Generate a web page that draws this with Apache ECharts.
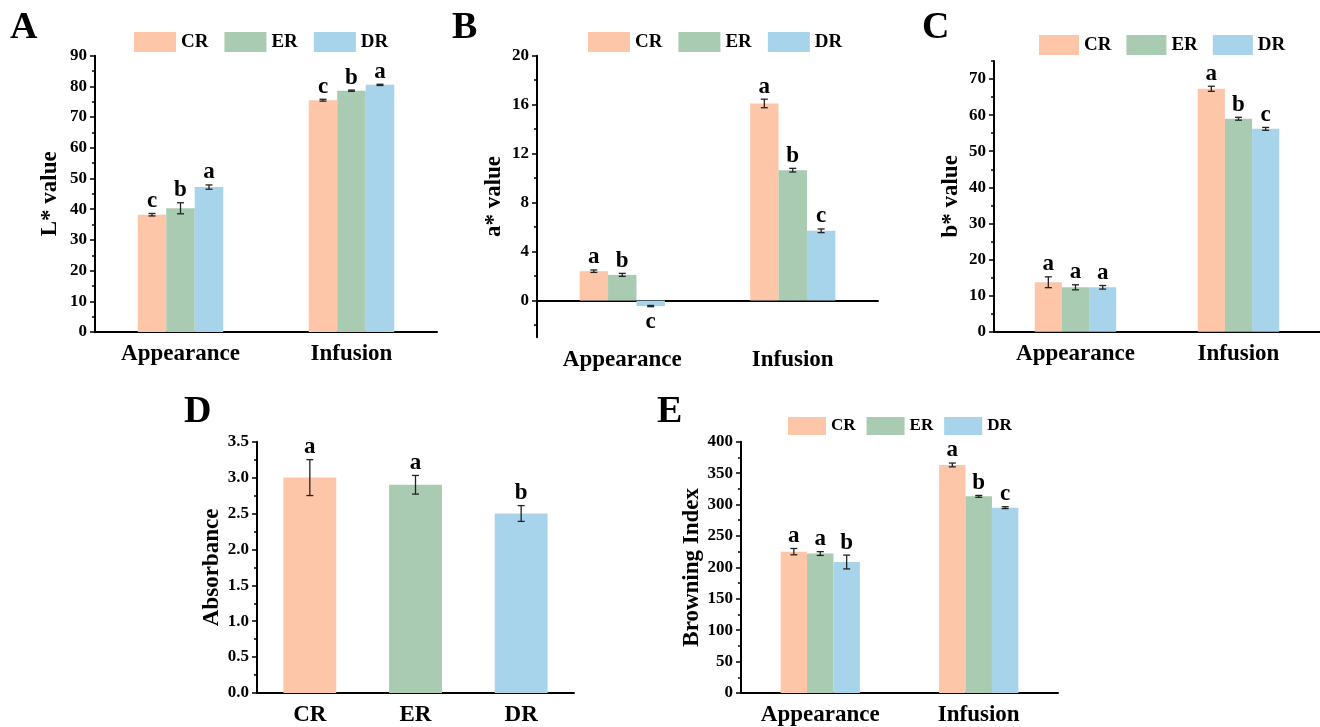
<!DOCTYPE html>
<html>
<head>
<meta charset="utf-8">
<title>Colour and browning of CR, ER, DR</title>
<script src="https://cdn.jsdelivr.net/npm/echarts@6/dist/echarts.min.js"></script>
<style>
html, body { margin: 0; padding: 0; background: #fff; }
#chart { width: 1320px; height: 727px; }
</style>
</head>
<body>
<div id="chart"></div>
<script>
// Categories
const groups = ['CR', 'ER', 'DR'];
const stages = ['Appearance', 'Infusion'];

// A: L* value (rows CR, ER, DR; columns Appearance, Infusion)
const lMean = [[38.2, 75.5], [40.3, 78.6], [47.2, 80.5]];
const lErr = [[0.4, 0.3], [1.8, 0.2], [0.7, 0.2]];
const lLetters = [['c', 'c'], ['b', 'b'], ['a', 'a']];
const lTicks = [0, 10, 20, 30, 40, 50, 60, 70, 80, 90];

// B: a* value
const aMean = [[2.4, 16.1], [2.1, 10.65], [-0.45, 5.7]];
const aErr = [[0.1, 0.35], [0.12, 0.15], [0.05, 0.15]];
const aLetters = [['a', 'a'], ['b', 'b'], ['c', 'c']];
const aTicks = [0, 4, 8, 12, 16, 20];

// C: b* value
const bMean = [[13.7, 67.3], [12.3, 59.0], [12.3, 56.2]];
const bErr = [[1.5, 0.7], [0.7, 0.4], [0.5, 0.4]];
const bLetters = [['a', 'a'], ['a', 'b'], ['a', 'c']];
const bTicks = [0, 10, 20, 30, 40, 50, 60, 70];

// D: absorbance
const absMean = [3.0, 2.9, 2.5];
const absErr = [0.25, 0.13, 0.11];
const absLetters = ['a', 'a', 'b'];
const absTicks = [0, 0.5, 1.0, 1.5, 2.0, 2.5, 3.0, 3.5];

// E: browning index
const biMean = [[225, 363], [222, 313], [208.5, 295]];
const biErr = [[5, 3], [3, 1.5], [11, 1.5]];
const biLetters = [['a', 'a'], ['a', 'b'], ['b', 'c']];
const biTicks = [0, 50, 100, 150, 200, 250, 300, 350, 400];

const colors = ['#FEC6A9', '#A8CBB1', '#A7D4EB'];
const FONT = 'Liberation Serif';

const panels = [
    {tag: 'A', tagPos: [10, 9], yName: 'L* value', cats: stages, mean: lMean, err: lErr, letters: lLetters,
     ticks: lTicks, min: 0, max: 90, box: [95, 55.7, 342, 276.3], nameGap: 33,
     legend: {left: 134, top: 32, gap: 16, w: 42, h: 20, size: 19}},
    {tag: 'B', tagPos: [452, 9], yName: 'a* value', cats: stages, mean: aMean, err: aErr, letters: aLetters,
     ticks: aTicks, min: -3, max: 20, box: [537, 55.7, 341, 281.6], nameGap: 31,
     legend: {left: 588, top: 32, gap: 16, w: 42, h: 20, size: 19}},
    {tag: 'C', tagPos: [922, 9], yName: 'b* value', cats: stages, mean: bMean, err: bErr, letters: bLetters,
     ticks: bTicks, min: 0, max: 75, box: [994, 61, 334, 270.7], nameGap: 31,
     legend: {left: 1039, top: 35, gap: 15, w: 40, h: 20, size: 19}},
    {tag: 'D', tagPos: [184, 393], yName: 'Absorbance', cats: groups, mean: [absMean], err: [absErr], letters: [absLetters],
     ticks: absTicks, min: 0, max: 3.5, box: [257, 441.7, 317, 255], nameGap: 33, fixed: 1,
     legend: null},
    {tag: 'E', tagPos: [657, 393], yName: 'Browning Index', cats: stages, mean: biMean, err: biErr, letters: biLetters,
     ticks: biTicks, min: 0, max: 400, box: [741, 441.7, 317, 255.6], nameGap: 37,
     legend: {left: 788, top: 417, gap: 11, w: 38, h: 18, size: 17}}
];

function minorTicks(ticks, min, max) {
    const step = ticks[1] - ticks[0];
    const cand = [ticks[0] - step / 2].concat(ticks.map(t => t + step / 2));
    return cand.filter(v => v >= min - 1e-9 && v <= max + 1e-9);
}

const grid = [], xAxis = [], yAxis = [], series = [], legend = [], graphic = [];
const axisBlack = {color: '#000', width: 2};

panels.forEach((p, i) => {
    const [left, top, width, height] = p.box;
    grid.push({left, top, width, height});
    const xi = i * 3, yi = i * 2;

    // main x axis: line + ticks at category centres
    xAxis.push({
        type: 'category', gridIndex: i, data: p.cats, position: 'bottom',
        axisLine: {onZero: true, lineStyle: axisBlack},
        axisTick: {alignWithLabel: true, length: 5, lineStyle: {color: '#000', width: 1.5}},
        axisLabel: {show: false}, splitLine: {show: false}
    });
    // boundary ticks
    xAxis.push({
        type: 'category', gridIndex: i, data: p.cats, position: 'bottom',
        axisLine: {show: false, onZero: true},
        axisTick: {alignWithLabel: false, length: 3, lineStyle: {color: '#000', width: 1.5}},
        axisLabel: {show: false}, splitLine: {show: false}
    });
    // labels at the bottom of the grid
    xAxis.push({
        type: 'category', gridIndex: i, data: p.cats, position: 'bottom',
        axisLine: {show: false, onZero: false}, axisTick: {show: false},
        axisLabel: {margin: 11, color: '#000', fontFamily: FONT, fontWeight: 'bold', fontSize: 23},
        splitLine: {show: false}
    });

    yAxis.push({
        type: 'value', gridIndex: i, min: p.min, max: p.max, position: 'left',
        name: p.yName, nameLocation: 'middle', nameRotate: 90, nameGap: p.nameGap,
        nameTextStyle: {color: '#000', fontFamily: FONT, fontWeight: 'bold', fontSize: 23},
        axisLine: {show: true, onZero: false, lineStyle: axisBlack},
        axisTick: {show: true, length: 5, customValues: p.ticks, lineStyle: {color: '#000', width: 1.5}},
        axisLabel: {
            customValues: p.ticks, margin: 8, color: '#000', fontFamily: FONT, fontWeight: 'bold', fontSize: 17,
            formatter: v => p.fixed ? Number(v).toFixed(p.fixed) : String(v)
        },
        splitLine: {show: false}
    });
    yAxis.push({
        type: 'value', gridIndex: i, min: p.min, max: p.max, position: 'left',
        axisLine: {show: false, onZero: false},
        axisTick: {show: true, length: 3, customValues: minorTicks(p.ticks, p.min, p.max),
                   lineStyle: {color: '#000', width: 1.5}},
        axisLabel: {show: false}, splitLine: {show: false}
    });

    const nGroups = p.mean.length;
    if (nGroups === 1) {
        series.push({
            type: 'bar', name: p.yName, xAxisIndex: xi, yAxisIndex: yi,
            barCategoryGap: '50%',
            data: p.mean[0].map((v, k) => ({value: v, itemStyle: {color: colors[k]}}))
        });
    } else {
        p.mean.forEach((row, g) => {
            series.push({
                type: 'bar', name: groups[g], xAxisIndex: xi, yAxisIndex: yi,
                barGap: '0%', barCategoryGap: '50%',
                itemStyle: {color: colors[g]}, data: row
            });
        });
    }

    // error bars and significance letters
    const errData = [];
    p.mean.forEach((row, g) => row.forEach((v, s) => errData.push([s, v, p.err[g][s], g])));
    series.push({
        type: 'custom', xAxisIndex: xi, yAxisIndex: yi, z: 10, silent: true,
        data: errData,
        renderItem: (params, api) => {
            const s = api.value(0), v = api.value(1), e = api.value(2), g = api.value(3);
            const catW = api.size([1, 0])[0];
            const bw = catW * 0.5 / nGroups;
            const x = api.coord([s, v])[0] + (g - (nGroups - 1) / 2) * bw;
            const yTop = api.coord([s, v + e])[1];
            const yBot = api.coord([s, v - e])[1];
            const cap = 3.5;
            const stroke = {stroke: '#222', lineWidth: 1.3};
            const neg = v < 0;
            return {
                type: 'group',
                children: [
                    {type: 'line', shape: {x1: x, y1: yTop, x2: x, y2: yBot}, style: stroke},
                    {type: 'line', shape: {x1: x - cap, y1: yTop, x2: x + cap, y2: yTop}, style: stroke},
                    {type: 'line', shape: {x1: x - cap, y1: yBot, x2: x + cap, y2: yBot}, style: stroke},
                    {type: 'text', style: {
                        text: p.letters[g][s], x: x, y: neg ? yBot + 4 : yTop - 1,
                        align: 'center', verticalAlign: neg ? 'top' : 'bottom',
                        font: 'bold 23px "' + FONT + '"', fill: '#000'
                    }}
                ]
            };
        }
    });

    if (p.legend) {
        const L = p.legend;
        legend.push({
            data: groups, left: L.left, top: L.top, padding: 0, itemGap: L.gap,
            itemWidth: L.w, itemHeight: L.h, icon: 'rect', selectedMode: false,
            textStyle: {color: '#000', fontFamily: FONT, fontWeight: 'bold', fontSize: L.size}
        });
    }

    graphic.push({
        type: 'text', left: p.tagPos[0], top: p.tagPos[1],
        style: {text: p.tag, font: 'bold 38px "' + FONT + '"', fill: '#000'}
    });
});

const chart = echarts.init(document.getElementById('chart'));
chart.setOption({
    backgroundColor: '#fff',
    animation: false,
    grid, xAxis, yAxis, series, legend, graphic
});
</script>
</body>
</html>
